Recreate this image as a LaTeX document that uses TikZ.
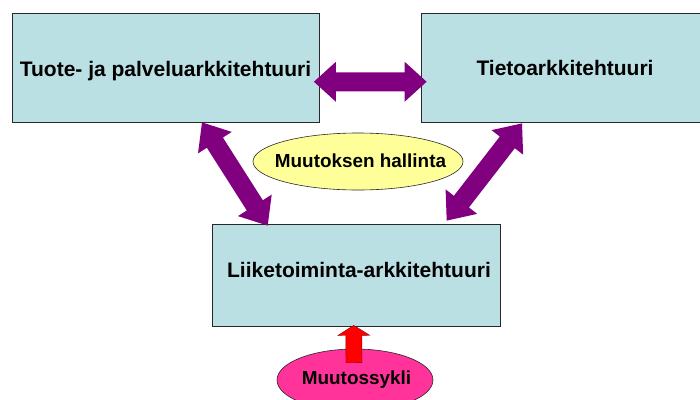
\documentclass[tikz,border=0pt]{standalone}
\usepackage{fontspec}
\setmainfont{Liberation Sans}
\usetikzlibrary{calc,shapes.geometric}

\definecolor{boxfill}{RGB}{186,224,227}
\definecolor{linkpurple}{RGB}{128,0,128}
\definecolor{notefill}{RGB}{255,255,153}
\definecolor{cyclefill}{RGB}{255,51,153}
\definecolor{edgegray}{RGB}{40,40,40}
\definecolor{pushred}{RGB}{255,0,0}

% Fat two-headed arrow: #1 style, #2 start, #3 end,
% #4 head length, #5 head half-width, #6 shaft half-width
\newcommand\twowayarrow[6]{%
  \path (#2) coordinate (ba-s) (#3) coordinate (ba-e);
  \coordinate (ba-ha) at ($(ba-s)!#4!(ba-e)$);
  \coordinate (ba-hb) at ($(ba-e)!#4!(ba-s)$);
  \path[#1] (ba-s)
    -- ($(ba-ha)!#5!-90:(ba-e)$) -- ($(ba-ha)!#6!-90:(ba-e)$)
    -- ($(ba-hb)!#6!90:(ba-s)$)  -- ($(ba-hb)!#5!90:(ba-s)$)
    -- (ba-e)
    -- ($(ba-hb)!#5!-90:(ba-s)$) -- ($(ba-hb)!#6!-90:(ba-s)$)
    -- ($(ba-ha)!#6!90:(ba-e)$)  -- ($(ba-ha)!#5!90:(ba-e)$)
    -- cycle;
}

% Fat one-headed arrow pointing from #2 to #3 (same arguments)
\newcommand\onewayarrow[6]{%
  \path (#2) coordinate (oa-s) (#3) coordinate (oa-e);
  \coordinate (oa-hb) at ($(oa-e)!#4!(oa-s)$);
  \path[#1] ($(oa-s)!#6!90:(oa-e)$)
    -- ($(oa-hb)!#6!-90:(oa-s)$) -- ($(oa-hb)!#5!-90:(oa-s)$)
    -- (oa-e)
    -- ($(oa-hb)!#5!90:(oa-s)$) -- ($(oa-hb)!#6!90:(oa-s)$)
    -- ($(oa-s)!#6!-90:(oa-e)$)
    -- cycle;
}

\begin{document}
\begin{tikzpicture}[x=1pt,y=-1pt,
  archbox/.style={rectangle, draw=edgegray, line width=0.8pt, fill=boxfill, inner sep=0pt},
  boxlabel/.style={anchor=base, inner sep=0pt, font=\fontsize{21}{25}\selectfont\bfseries},
  bubble/.style={ellipse, draw=edgegray, line width=0.6pt, inner sep=0pt},
  bubblelabel/.style={anchor=base, inner sep=0pt, font=\fontsize{18.9}{22}\selectfont\bfseries},
  linkarrow/.style={fill=linkpurple},
  pusharrow/.style={fill=pushred, draw=red!55!black, line width=0.4pt, line join=miter}]

  \clip (0,0) rectangle (700,399);
  \fill[white] (0,0) rectangle (700,399);

  % architecture boxes
  \node[archbox, minimum width=307pt, minimum height=108.5pt] (tl) at (166,67.75) {};
  \node[archbox, minimum width=288pt, minimum height=108.5pt] (tr) at (565,67.75) {};
  \node[archbox, minimum width=288pt, minimum height=102pt]   (bl) at (356.7,275) {};

  \node[boxlabel] (tltext) at (165.5,76) {Tuote- ja palveluarkkitehtuuri};
  \node[boxlabel] (trtext) at (565,75) {Tietoarkkitehtuuri};
  \node[boxlabel] (bltext) at (359,277) {Liiketoiminta-arkkitehtuuri};

  % links between the architectures
  \twowayarrow{linkarrow}{$(tl.east)+(-6,14)$}{$(tr.west)+(6,14)$}{22pt}{20pt}{9.5pt}
  \twowayarrow{linkarrow}{$(tl.south)+(36,0)$}{$(bl.north)+(-89,2)$}{24pt}{20pt}{9.5pt}
  \twowayarrow{linkarrow}{$(tr.south)+(-43,1)$}{$(bl.north)+(90,-3)$}{24pt}{20pt}{9.5pt}

  % change management and change cycle
  \node[bubble, fill=notefill, minimum width=210pt, minimum height=57pt] (mgmt) at (358,161.5) {};
  \node[bubblelabel] (mgmttext) at (360.5,167) {Muutoksen hallinta};
  \node[bubble, fill=cyclefill, minimum width=156pt, minimum height=62pt] (cyc) at (355,380) {};

  \onewayarrow{pusharrow}{$(cyc.north)+(-1,14)$}{$(bl.south)+(-3,-1)$}{10pt}{16pt}{8pt}

  \node[bubblelabel] (cyctext) at (356.5,384) {Muutossykli};
\end{tikzpicture}
\end{document}
